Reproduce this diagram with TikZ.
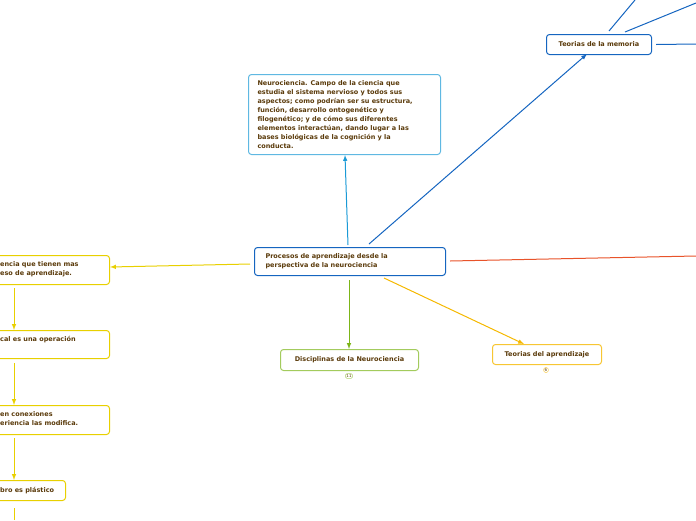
\documentclass[tikz,border=0pt]{standalone}
\usepackage{fontspec}
\setmainfont{DejaVu Sans}
\definecolor{txt}{HTML}{5A3A0A}
\definecolor{cblue}{HTML}{1565C0}
\definecolor{ccyan}{HTML}{1A9AD6}
\definecolor{cred}{HTML}{E8532A}
\definecolor{corange}{HTML}{F5B800}
\definecolor{cgreen}{HTML}{7CB518}
\definecolor{cyel}{HTML}{E8D000}
\begin{document}
\begin{tikzpicture}[x=1pt,y=-1pt,
  box/.style={draw,rounded corners=3pt,line width=1pt,fill=white,text=txt,font=\fontsize{6.5}{8.9}\selectfont\bfseries,align=left,inner sep=0pt,anchor=north west},
  lbl/.style={text=txt,font=\fontsize{6.5}{8.9}\selectfont\bfseries,align=left,inner sep=0pt,anchor=west},
  badge/.style={draw,rounded corners=1.5pt,line width=0.5pt,font=\fontsize{4}{4}\selectfont,text=txt,inner sep=1pt},
  arr/.style={line width=1pt,-latex}]
\useasboundingbox (0,0) rectangle (696,520);
\clip (0,0) rectangle (696,520);
% boxes
\node[box,draw=cblue,minimum width=191pt,minimum height=28pt,text width=185pt] (main) at (254,247) {\hspace*{8pt}\parbox{175pt}{Procesos de aprendizaje desde la\\perspectiva de la neurociencia}};
\node[box,draw=ccyan!70,minimum width=192pt,minimum height=80pt] (neuro) at (248,74) {\hspace*{8pt}\parbox[c]{182pt}{Neurociencia. Campo de la ciencia que\\estudia el sistema nervioso y todos sus\\aspectos; como podrían ser su estructura,\\función, desarrollo ontogenético y\\filogenético; y de cómo sus diferentes\\elementos interactúan, dando lugar a las\\bases biológicas de la cognición y la\\conducta.}};
\node[box,draw=cblue,minimum width=105pt,minimum height=20pt,align=center,text width=105pt] (mem) at (546,34) {Teorias de la memoria};
\node[box,draw=cgreen!70,minimum width=138pt,minimum height=21pt,align=center,text width=138pt] (dis) at (280,349) {Disciplinas de la Neurociencia};
\node[badge,draw=cgreen!60] at (349,376) {11};
\node[box,draw=corange!80,minimum width=109pt,minimum height=20pt,align=center,text width=109pt] (apr) at (492,344) {Teorias del aprendizaje};
\node[badge,draw=corange!60] at (546,370) {6};
% left column
\node[box,draw=cyel,minimum width=200pt,minimum height=29pt] (l1) at (-91,255) {};
\node[lbl] (t1) at (0,269.5) {encia que tienen mas\\eso de aprendizaje.};
\node[box,draw=cyel,minimum width=200pt,minimum height=28pt] (l2) at (-91,330) {};
\node[lbl] (t2) at (0,340) {cal es una operación};
\node[box,draw=cyel,minimum width=200pt,minimum height=29pt] (l3) at (-91,405) {};
\node[lbl] (t3) at (0,419) {en conexiones\\eriencia las modifica.};
\node[box,draw=cyel,minimum width=156pt,minimum height=20pt] (l4) at (-91,480) {};
\node[lbl] (t4) at (0,490.5) {bro es plástico};
\coordinate (lend) at (14,520);
% connectors
\draw[arr,ccyan] (348,245) -- (neuro.south -| 345,0);
\draw[arr,cblue] (369,244) -- (587,54);
\draw[line width=1pt,cblue] (609,31) -- (635,0);
\draw[line width=1pt,cblue] (625,32) -- (696,3);
\draw[line width=1pt,cblue] (mem.east) ++(4,0) -- (696,44);
\draw[line width=1pt,cred] (450,261) -- (696,256);
\draw[arr,corange] (384,278) -- (apr.north -| 524,0);
\draw[arr,cgreen] (349,280) -- (dis.north -| 349,0);
\draw[arr,cyel] (250,264) -- (l1.east |- 0,267);
\draw[arr,cyel] (14,288) -- (l2.north -| 14,0);
\draw[arr,cyel] (14,363) -- (l3.north -| 14,0);
\draw[arr,cyel] (14,438) -- (l4.north -| 14,0);
\draw[line width=1pt,cyel] (14,508) -- (lend);
\end{tikzpicture}
\end{document}
